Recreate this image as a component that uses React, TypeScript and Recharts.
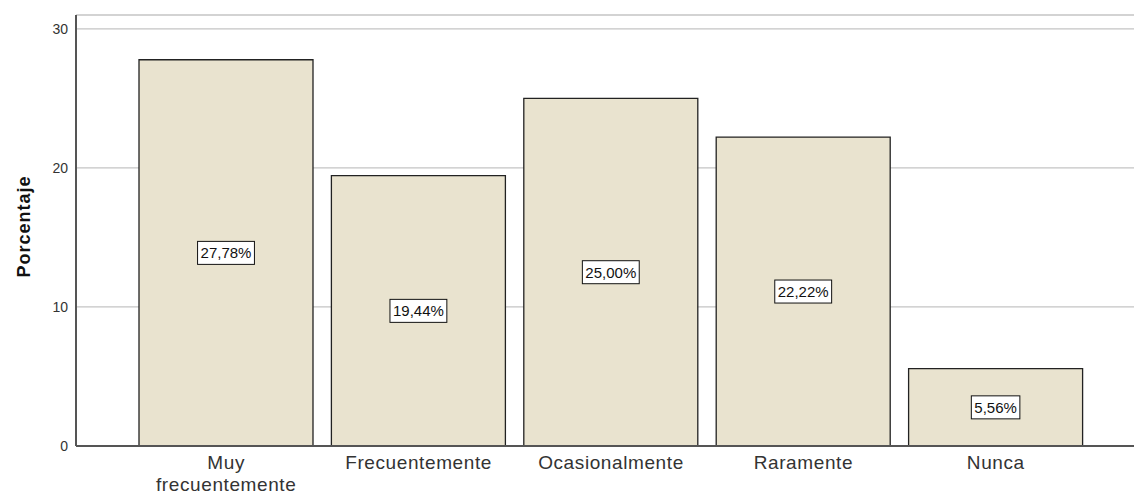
import { BarChart, Bar, XAxis, YAxis, CartesianGrid, LabelList } from 'recharts'

const categories = ['Muy frecuentemente', 'Frecuentemente', 'Ocasionalmente', 'Raramente', 'Nunca']
const percentages = [27.78, 19.44, 25.0, 22.22, 5.56]
const yTicks = [0, 10, 20, 30]

const data = categories.map((name, i) => ({ name, pct: percentages[i] }))

const FONT = '"Liberation Sans", Arial, sans-serif'

let ctx: CanvasRenderingContext2D | null = null
function textWidth(s: string, size: number) {
  if (!ctx) ctx = document.createElement('canvas').getContext('2d')
  if (!ctx) return s.length * size * 0.55
  ctx.font = `${size}px ${FONT}`
  return ctx.measureText(s).width
}

const fmt = (v: number) => `${v.toFixed(2).replace('.', ',')}%`

function ValueBox(props: any) {
  const { x, y, width, height, value } = props
  const label = fmt(Number(value))
  const w = textWidth(label, 15) + 6
  const h = 23
  const cx = x + width / 2
  const cy = y + height / 2
  return (
    <g>
      <rect x={cx - w / 2} y={cy - h / 2} width={w} height={h} fill="#fff" stroke="#111" strokeWidth={1} />
      <text x={cx} y={cy + 5.5} textAnchor="middle" fontSize={15} fontFamily={FONT} fill="#111">
        {label}
      </text>
    </g>
  )
}

// axis sits at y=446; two-line labels are packed tight like the original
function CategoryTick(props: any) {
  const { x, payload } = props
  const lines = String(payload.value).split(' ')
  return (
    <g>
      {lines.map((line, i) => (
        <text
          key={i}
          x={x}
          y={469 + i * 22}
          textAnchor="middle"
          fontSize={19}
          letterSpacing={0.6}
          fontFamily={FONT}
          fill="#333"
        >
          {line}
        </text>
      ))}
    </g>
  )
}

export default function App() {
  return (
    <div style={{ position: 'absolute', left: 0, top: 0, width: 1134, height: 496, background: '#fff' }}>
      <BarChart width={1134} height={496} data={data} margin={{ top: 15, right: 0, bottom: 0, left: 0 }}>
        <CartesianGrid vertical={false} stroke="#c4c4c4" strokeWidth={1.3} />
        <XAxis
          dataKey="name"
          height={50}
          padding={{ left: 54, right: 42 }}
          axisLine={{ stroke: '#555', strokeWidth: 2 }}
          tickLine={false}
          tick={<CategoryTick />}
          interval={0}
        />
        <YAxis
          width={76}
          domain={[0, 31]}
          ticks={yTicks}
          axisLine={{ stroke: '#555', strokeWidth: 2 }}
          tickLine={false}
          tick={{ fontSize: 14, fill: '#333', fontFamily: FONT }}
          label={{
            value: 'Porcentaje',
            angle: -90,
            position: 'insideLeft',
            dx: 19,
            dy: -4,
            style: { fontSize: 18, fontWeight: 'bold', fill: '#111', fontFamily: FONT, letterSpacing: 1, textAnchor: 'middle' },
          }}
        />
        <Bar dataKey="pct" fill="#e9e3cf" stroke="#222" strokeWidth={1.3} barSize={174} isAnimationActive={false}>
          <LabelList dataKey="pct" content={<ValueBox />} />
        </Bar>
      </BarChart>
    </div>
  )
}
